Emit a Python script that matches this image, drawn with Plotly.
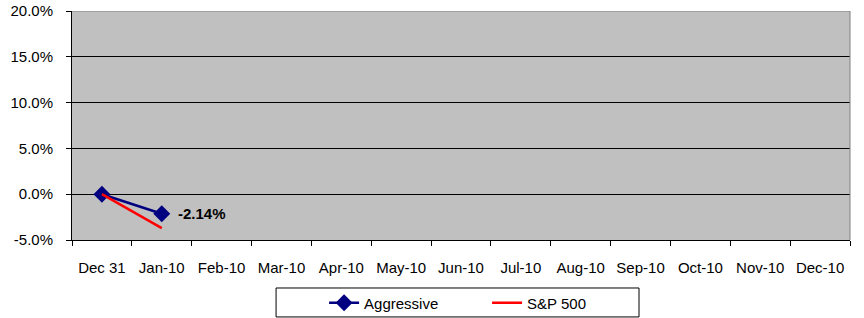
import plotly.graph_objects as go

categories = ["Dec 31", "Jan-10", "Feb-10", "Mar-10", "Apr-10", "May-10", "Jun-10",
              "Jul-10", "Aug-10", "Sep-10", "Oct-10", "Nov-10", "Dec-10"]
aggressive = [0.0, -2.14]
sp500 = [0.0, -3.70]
agg_label = "-2.14%"
y_ticks = [-5, 0, 5, 10, 15, 20]

FONT = "Liberation Sans, Arial, sans-serif"

fig = go.Figure()
fig.add_trace(go.Scatter(
    x=categories[:len(aggressive)], y=aggressive, name="Aggressive",
    mode="lines+markers",
    line=dict(color="#000080", width=2.5),
    marker=dict(symbol="diamond", size=13, color="#000080"),
))
fig.add_trace(go.Scatter(
    x=categories[:len(sp500)], y=sp500, name="S&P 500",
    mode="lines", line=dict(color="#FF0000", width=2.5),
))

fig.add_annotation(x=categories[len(aggressive) - 1], y=aggressive[-1], text=f"<b>{agg_label}</b>",
                   showarrow=False, xanchor="left", yanchor="middle", xshift=14,
                   font=dict(family=FONT, size=15, color="black"))

fig.update_layout(
    width=864, height=318,
    margin=dict(l=72, r=14, t=11, b=78, autoexpand=False),
    paper_bgcolor="white", plot_bgcolor="#C0C0C0",
    font=dict(family=FONT, size=15, color="black"),
    showlegend=True,
    legend=dict(orientation="h", x=0.324, xanchor="left", y=-0.275, yanchor="middle",
                bgcolor="rgba(0,0,0,0)", borderwidth=0, entrywidth=118,
                font=dict(family=FONT, size=15, color="black"), itemwidth=30),
    xaxis=dict(type="category", categoryorder="array", categoryarray=categories,
               range=[-0.5, len(categories) - 0.5], tickmode="array", tickvals=categories,
               tickson="boundaries", ticks="outside", ticklen=5, tickcolor="black",
               showline=True, linecolor="black", linewidth=1, showgrid=False,
               automargin=False, ticklabelstandoff=14, ticklabeloverflow="allow",
               tickfont=dict(size=15)),
    yaxis=dict(range=[-5, 20], tickmode="array", tickvals=y_ticks,
               ticktext=[f"{v:.1f}%" for v in y_ticks],
               ticks="outside", ticklen=5, tickcolor="black",
               showline=True, linecolor="black", linewidth=1,
               showgrid=True, gridcolor="black", gridwidth=1,
               zeroline=True, zerolinecolor="black", zerolinewidth=1,
               automargin=False, ticklabelstandoff=10, ticklabeloverflow="allow",
               tickfont=dict(size=15)),
    shapes=[
        dict(type="line", xref="paper", yref="y", x0=0, x1=1, y0=20, y1=20,
             line=dict(color="#808080", width=1)),
        dict(type="line", xref="paper", yref="paper", x0=1, x1=1, y0=0, y1=1,
             line=dict(color="#808080", width=1)),
        dict(type="rect", xref="paper", yref="paper", x0=0.2623, x1=0.7288, y0=-0.336, y1=-0.2096,
             line=dict(color="black", width=1), fillcolor="rgba(0,0,0,0)"),
    ],
)

# remove the page's default body margin so the 864x318 figure fills the window exactly
fig.write_html("out.html", config={"displayModeBar": False},
               post_script="document.body.style.margin='0';")
